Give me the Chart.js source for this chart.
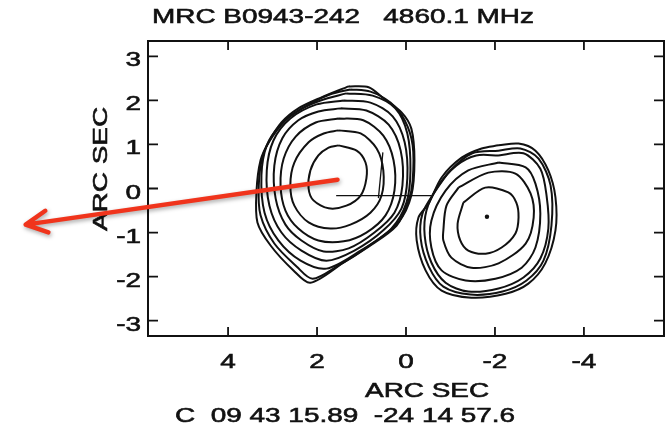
<!DOCTYPE html>
<html>
<head>
<meta charset="utf-8">
<script src="https://cdn.jsdelivr.net/npm/chart.js@4.4.1/dist/chart.umd.min.js"></script>
<style>
  html, body { margin: 0; padding: 0; background: #fff; }
  #wrap { width: 668px; height: 435px; }
</style>
</head>
<body>
<div id="wrap"><canvas id="myChart"></canvas></div>
<script>
// texts
const titleText = "MRC B0943-242   4860.1 MHz";
const axisLabel = "ARC SEC";
const centreText = "C  09 43 15.89  -24 14 57.6";

// tick values (arc sec)
const xTicks = [4, 2, 0, -2, -4];
const yTicks = [3, 2, 1, 0, -1, -2, -3];

// contours of the eastern (left) lobe, [x, y] in arc sec, inner to outer
const lobeA1 = [[1.52,0.98],[1.11,0.86],[0.91,0.59],[0.89,0.23],[1.02,-0.16],[1.34,-0.39],[1.74,-0.45],[2.08,-0.27],[2.19,0.00],[2.15,0.41],[1.97,0.75],[1.74,0.93],[1.52,0.98]];
const lobeA2 = [[1.52,1.32],[1.02,1.25],[0.66,0.91],[0.51,0.41],[0.55,-0.16],[0.80,-0.55],[1.25,-0.82],[1.70,-0.91],[2.19,-0.77],[2.51,-0.39],[2.60,0.07],[2.51,0.59],[2.19,1.05],[1.85,1.25],[1.52,1.32]];
const lobeA3 = [[1.52,1.59],[0.96,1.55],[0.51,1.20],[0.28,0.64],[0.26,-0.05],[0.46,-0.61],[0.89,-1.00],[1.40,-1.20],[1.97,-1.18],[2.42,-0.91],[2.71,-0.50],[2.82,0.07],[2.75,0.68],[2.48,1.18],[2.03,1.50],[1.52,1.59]];
const lobeA4 = [[1.47,1.82],[0.89,1.77],[0.39,1.45],[0.12,0.86],[0.08,0.07],[0.26,-0.55],[0.71,-1.00],[1.29,-1.36],[1.85,-1.43],[2.35,-1.18],[2.71,-0.82],[2.93,-0.23],[2.96,0.52],[2.78,1.14],[2.42,1.55],[1.97,1.75],[1.47,1.82]];
const lobeA5 = [[1.40,2.00],[0.80,1.95],[0.30,1.64],[0.03,1.05],[-0.03,0.23],[0.10,-0.45],[0.51,-0.95],[1.16,-1.41],[1.79,-1.64],[2.35,-1.41],[2.80,-1.00],[3.07,-0.39],[3.13,0.41],[2.98,1.09],[2.60,1.59],[2.01,1.91],[1.40,2.00]];
const lobeA6 = [[1.34,2.16],[0.75,2.11],[0.24,1.82],[-0.03,1.25],[-0.10,0.41],[-0.01,-0.32],[0.33,-0.91],[1.02,-1.41],[1.79,-1.82],[2.37,-1.64],[2.87,-1.18],[3.18,-0.55],[3.25,0.30],[3.13,0.98],[2.82,1.45],[2.42,1.77],[1.92,2.00],[1.34,2.16]];
const lobeA7 = [[1.25,2.25],[0.80,2.20],[0.35,1.95],[0.03,1.55],[-0.15,0.98],[-0.15,0.18],[-0.06,-0.27],[0.21,-0.84],[0.84,-1.32],[1.52,-1.75],[2.10,-2.05],[2.46,-1.77],[2.96,-1.25],[3.27,-0.61],[3.31,0.07],[3.22,0.75],[3.00,1.18],[2.64,1.61],[2.15,1.93],[1.70,2.14],[1.25,2.25]];
const lobeA8 = [[1.29,2.32],[0.84,2.30],[0.51,2.05],[0.10,1.73],[-0.12,1.36],[-0.19,0.64],[-0.12,-0.16],[0.17,-0.77],[0.73,-1.23],[1.40,-1.68],[2.15,-2.14],[2.53,-1.86],[3.04,-1.30],[3.34,-0.77],[3.36,-0.05],[3.27,0.64],[3.09,1.05],[2.80,1.50],[2.42,1.82],[1.90,2.07],[1.29,2.32]];

// contours of the western (right) lobe
const lobeB1 = [[-1.29,-0.32],[-1.78,0.02],[-2.30,-0.09],[-2.48,-0.32],[-2.53,-0.66],[-2.46,-1.02],[-2.15,-1.34],[-1.79,-1.48],[-1.40,-1.41],[-1.22,-1.18],[-1.16,-0.80],[-1.29,-0.32]];
const lobeB2 = [[-1.18,0.02],[-1.85,0.36],[-2.46,0.34],[-2.80,-0.11],[-2.87,-0.66],[-2.69,-1.25],[-2.08,-1.70],[-1.47,-1.80],[-1.02,-1.57],[-0.84,-1.18],[-0.84,-0.95],[-0.91,-0.39],[-1.18,0.02]];
const lobeB3 = [[-2.08,0.59],[-2.69,0.48],[-2.91,0.11],[-3.02,-0.57],[-2.91,-1.34],[-2.60,-1.80],[-2.01,-2.05],[-1.34,-2.09],[-0.80,-1.86],[-0.57,-1.34],[-0.57,-0.73],[-0.89,-0.05],[-1.40,0.41],[-2.08,0.59]];
const lobeB4 = [[-2.08,0.75],[-2.64,0.80],[-3.02,0.45],[-3.16,-0.16],[-3.20,-0.91],[-3.02,-1.59],[-2.64,-2.02],[-2.08,-2.27],[-1.40,-2.34],[-0.89,-2.14],[-0.57,-1.68],[-0.42,-1.07],[-0.46,-0.50],[-0.73,0.07],[-1.13,0.52],[-1.58,0.75],[-2.08,0.75]];
const lobeB5 = [[-2.08,0.86],[-2.57,0.91],[-2.98,0.68],[-3.25,0.07],[-3.27,-0.84],[-3.09,-1.64],[-2.71,-2.09],[-2.17,-2.34],[-1.45,-2.41],[-0.84,-2.23],[-0.51,-1.77],[-0.33,-1.14],[-0.37,-0.57],[-0.64,-0.09],[-1.00,0.41],[-1.49,0.80],[-2.08,0.86]];
const lobeB6 = [[-2.08,0.98],[-2.53,1.02],[-2.91,0.86],[-3.20,0.41],[-3.36,-0.20],[-3.36,-0.95],[-3.13,-1.70],[-2.75,-2.16],[-2.24,-2.39],[-1.47,-2.48],[-0.80,-2.32],[-0.44,-1.86],[-0.24,-1.18],[-0.28,-0.66],[-0.51,-0.34],[-0.80,0.25],[-1.25,0.70],[-1.70,0.91],[-2.08,0.98]];

// peak of the western lobe and the marker lines
const peakB = [[-1.82, -0.64]];
const markH = [[1.57, -0.16], [-0.57, -0.16]];
const markV = [[0.62, -0.22], [0.52, 0.82]];

// red arrow (arc sec): from the eastern lobe outwards
const arrowFrom = [1.54, 0.2];
const arrowTo = [8.55, -0.82];

const contours = [lobeA1, lobeA2, lobeA3, lobeA4, lobeA5, lobeA6, lobeA7, lobeA8,
                  lobeB1, lobeB2, lobeB3, lobeB4, lobeB5, lobeB6];

const FONT = "'Liberation Sans', Arial, Helvetica, sans-serif";
const STRETCH = 1.33;

function pts(arr) {
  return arr.map(p => ({ x: p[0], y: p[1] }));
}

const datasets = contours.map(c => ({
  data: pts(c),
  showLine: true,
  borderColor: "#111",
  borderWidth: 2,
  pointRadius: 0,
  tension: 0.3,
  fill: false,
}));
datasets.push({ data: pts(markH), showLine: true, borderColor: "#111", borderWidth: 1.3, pointRadius: 0 });
datasets.push({ data: pts(markV), showLine: true, borderColor: "#111", borderWidth: 1.3, pointRadius: 0 });
datasets.push({ data: pts(peakB), pointRadius: 2.2, backgroundColor: "#111", borderWidth: 0 });

// wide, slightly heavy lettering like the scanned figure
function wideText(ctx, text, x, y, align, rot) {
  ctx.save();
  ctx.translate(x, y);
  if (rot) ctx.rotate(rot);
  ctx.scale(STRETCH, 1);
  ctx.textAlign = align;
  ctx.textBaseline = "alphabetic";
  ctx.lineWidth = 0.6;
  ctx.fillText(text, 0, 0);
  ctx.strokeText(text, 0, 0);
  ctx.restore();
}

const framePlugin = {
  id: "frame",
  afterDraw(chart) {
    const ctx = chart.ctx;
    const a = chart.chartArea;
    const xs = chart.scales.x;
    const ys = chart.scales.y;

    ctx.save();
    ctx.strokeStyle = "#111";
    ctx.fillStyle = "#111";
    ctx.lineWidth = 2;
    ctx.strokeRect(a.left, a.top, a.right - a.left, a.bottom - a.top);

    // inward ticks on all four sides
    ctx.lineWidth = 1.8;
    ctx.beginPath();
    xs.ticks.forEach(t => {
      const px = xs.getPixelForValue(t.value);
      ctx.moveTo(px, a.bottom); ctx.lineTo(px, a.bottom - 9);
      ctx.moveTo(px, a.top); ctx.lineTo(px, a.top + 9);
    });
    ys.ticks.forEach(t => {
      const py = ys.getPixelForValue(t.value);
      ctx.moveTo(a.left, py); ctx.lineTo(a.left + 10, py);
      ctx.moveTo(a.right, py); ctx.lineTo(a.right - 10, py);
    });
    ctx.stroke();

    // tick labels
    ctx.font = "21px " + FONT;
    xs.ticks.forEach(t => {
      wideText(ctx, String(t.value), xs.getPixelForValue(t.value), a.bottom + 32, "center");
    });
    ys.ticks.forEach(t => {
      wideText(ctx, String(t.value), a.left - 7, ys.getPixelForValue(t.value) + 10, "right");
    });

    // titles
    wideText(ctx, titleText, 152, 23, "left");
    wideText(ctx, axisLabel, 365, 397, "left");
    wideText(ctx, centreText, 175, 422, "left");
    wideText(ctx, axisLabel, 107, 169, "center", -Math.PI / 2);

    // red arrow
    const x0 = xs.getPixelForValue(arrowFrom[0]), y0 = ys.getPixelForValue(arrowFrom[1]);
    const x1 = xs.getPixelForValue(arrowTo[0]), y1 = ys.getPixelForValue(arrowTo[1]);
    const ang = Math.atan2(y0 - y1, x0 - x1);
    const head = 24, spread = 27 * Math.PI / 180;
    ctx.strokeStyle = "rgb(240,52,28)";
    ctx.lineWidth = 4.5;
    ctx.lineCap = "round";
    ctx.lineJoin = "round";
    ctx.shadowColor = "rgba(0,0,0,0.35)";
    ctx.shadowBlur = 4;
    ctx.shadowOffsetX = 1;
    ctx.shadowOffsetY = 2;
    ctx.beginPath();
    ctx.moveTo(x0, y0);
    ctx.lineTo(x1, y1);
    ctx.moveTo(x1 + head * Math.cos(ang - spread), y1 + head * Math.sin(ang - spread));
    ctx.lineTo(x1, y1);
    ctx.lineTo(x1 + head * Math.cos(ang + spread), y1 + head * Math.sin(ang + spread));
    ctx.stroke();
    ctx.restore();
  },
};

const config = {
  type: "scatter",
  data: { datasets },
  options: {
    responsive: true,
    maintainAspectRatio: false,
    animation: false,
    layout: { padding: { left: 148, top: 41, right: 4, bottom: 99 } },
    plugins: { legend: { display: false }, tooltip: { enabled: false } },
    scales: {
      x: {
        type: "linear",
        display: false,
        reverse: true,
        min: -5.8,
        max: 5.8,
        afterBuildTicks: s => { s.ticks = xTicks.map(v => ({ value: v })); },
      },
      y: {
        type: "linear",
        display: false,
        min: -3.35,
        max: 3.35,
        afterBuildTicks: s => { s.ticks = yTicks.map(v => ({ value: v })); },
      },
    },
  },
  plugins: [framePlugin],
};

new Chart(document.getElementById("myChart"), config);
</script>
</body>
</html>
